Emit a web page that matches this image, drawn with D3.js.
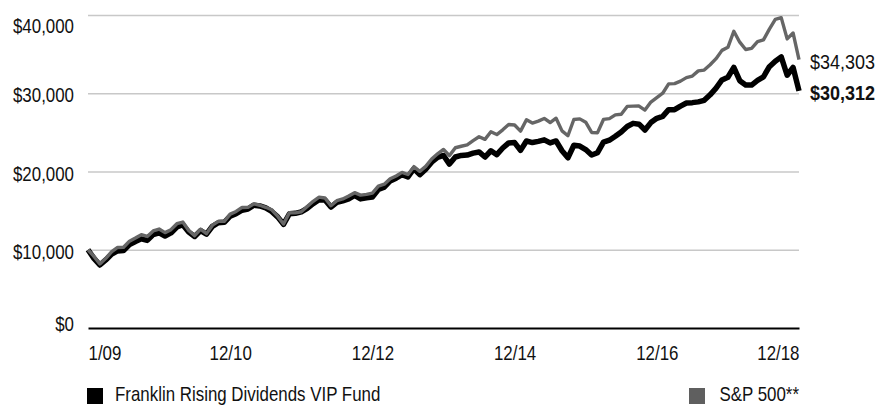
<!DOCTYPE html>
<html>
<head>
<meta charset="utf-8">
<script src="https://cdn.jsdelivr.net/npm/d3@7"></script>
<style>
  html, body { margin: 0; padding: 0; background: #fff; }
  svg { display: block; }
  text { font-family: "Liberation Sans", Arial, sans-serif; fill: #111; }
</style>
</head>
<body>
<svg id="chart" width="879" height="405"></svg>
<script>
// ---- Data (hypothetical $10,000 investment, month-end values 12/08 .. 12/18) ----
const seriesNames = ["Franklin Rising Dividends VIP Fund", "S&P 500**"];
const fundValues = [10000,
  8900,8050,8700,9450,9850,9900,10650,11050,11400,11200,11950,12150,
  11750,12150,12900,13200,12250,11700,12450,12000,13000,13450,13500,14300,
  14600,15050,15200,15700,15600,15350,14900,14200,13250,14600,14650,14850,
  15300,15900,16400,16350,15450,16050,16250,16500,16950,16500,16650,16750,
  17700,18000,18800,19150,19600,19300,20350,19600,20300,21200,21800,22050,
  20950,21850,22050,22100,22350,22500,21850,22650,22150,23000,23650,23700,
  22700,23900,23700,23850,24050,23650,23900,22650,21750,23350,23250,22800,
  22100,22400,23750,24000,24500,25050,25750,26150,26050,25300,26250,26800,
  27050,27900,27900,28350,28750,28800,28900,29100,29800,30650,31700,32050,
  33300,31600,31050,31050,31650,32100,33400,34100,34650,32300,33300,30312];
const spValues = [10000,
  9157,8182,8899,9750,10295,10316,11096,11497,11926,11704,12406,12646,
  12191,12569,13327,13538,12456,11803,12631,12061,13137,13636,13637,14548,
  14895,15406,15412,15868,15689,15427,15114,14293,13288,14740,14708,14858,
  15523,16193,16726,16620,15621,16265,16491,16862,17297,16977,17075,17234,
  18127,18373,19062,19430,19885,19618,20617,20019,20648,21598,22257,22816,
  22027,23033,23227,23399,23949,24445,24107,25072,24721,25324,26005,25940,
  25161,26608,26187,26439,26780,26260,26812,25195,24573,26647,26727,26297,
  24993,24961,26653,26757,27239,27310,28318,28357,28363,27847,28877,29442,
  30001,31192,31229,31551,31996,32194,32857,32959,33638,34422,35479,35869,
  37924,36525,35597,35732,36593,36820,38190,39435,39660,36947,37701,34303];
const xTickIndex = [0, 24, 48, 72, 96, 120];
const xTickLabels = ["1/09", "12/10", "12/12", "12/14", "12/16", "12/18"];
const yTickValues = [0, 10000, 20000, 30000, 40000];
const endLabels = ["$30,312", "$34,303"];

// ---- Layout ----
const svg = d3.select("#chart");
const mLeft = 88, mRight = 799, mTop = 15, mBottom = 328;
const SX = 0.845; // condensed type

const x = d3.scaleLinear().domain([0, fundValues.length - 1]).range([mLeft, mRight]);
const y = d3.scaleLinear().domain([0, 40000]).range([mBottom, mTop]);

// gridlines
const grid = svg.append("g")
  .attr("transform", `translate(${mLeft},0)`)
  .call(d3.axisLeft(y).tickValues(yTickValues.slice(1)).tickSize(-(mRight - mLeft)).tickFormat(""));
grid.select(".domain").remove();
grid.selectAll("line").attr("stroke", "#c8c8c8").attr("stroke-width", 1.6);

// y axis labels
const yAxis = svg.append("g")
  .attr("transform", `translate(${mLeft},0)`)
  .call(d3.axisLeft(y).tickValues(yTickValues).tickSize(0).tickFormat(d => "$" + d3.format(",")(d)));
yAxis.select(".domain").remove();
yAxis.selectAll("text")
  .attr("font-size", 20)
  .attr("fill", "#111")
  .attr("x", -14 / SX)
  .attr("dy", null)
  .attr("dominant-baseline", "central")
  .attr("y", d => d === 40000 ? 10 : (d === 0 ? -5 : 1.5))
  .attr("transform", `scale(${SX},1)`);

// x axis
const xAxis = svg.append("g")
  .attr("transform", `translate(0,${mBottom})`)
  .call(d3.axisBottom(x).tickValues(xTickIndex).tickSize(0).tickFormat((d, i) => xTickLabels[i]));
xAxis.select(".domain").attr("stroke", "#000").attr("stroke-width", 1.8);
xAxis.selectAll("text")
  .attr("font-size", 20)
  .attr("fill", "#111")
  .attr("y", 25)
  .attr("dy", null)
  .attr("dominant-baseline", "central")
  .attr("text-anchor", (d, i) => i === 0 ? "start" : (i === xTickIndex.length - 1 ? "end" : "middle"))
  .attr("transform", `scale(${SX},1)`);

// lines
const line = d3.line().x((d, i) => x(i)).y(d => y(d));
svg.append("path").datum(fundValues)
  .attr("fill", "none").attr("stroke", "#000").attr("stroke-width", 5.5)
  .attr("stroke-linejoin", "round").attr("d", line);
svg.append("path").datum(spValues)
  .attr("fill", "none").attr("stroke", "#666").attr("stroke-width", 3.4)
  .attr("stroke-linejoin", "round").attr("d", line);

// end labels
const lastI = fundValues.length - 1;
svg.append("g").attr("transform", `translate(810,${y(spValues[lastI]) + 2.5}) scale(0.9,1)`)
  .append("text").attr("font-size", 20).attr("dominant-baseline", "central").attr("fill", "#111")
  .text(endLabels[1]);
svg.append("g").attr("transform", `translate(810,${y(fundValues[lastI]) + 2.5}) scale(0.9,1)`)
  .append("text").attr("font-size", 20).attr("font-weight", "bold").attr("dominant-baseline", "central").attr("fill", "#000")
  .text(endLabels[0]);

// legend
const legendItems = [
  { name: seriesNames[0], color: "#000", sx: 87, tx: 115, anchor: "start" },
  { name: seriesNames[1], color: "#5f5f5f", sx: 689, tx: 799, anchor: "end" }
];
legendItems.forEach(it => {
  svg.append("rect").attr("x", it.sx).attr("y", 388).attr("width", 16).attr("height", 16).attr("fill", it.color);
  svg.append("g").attr("transform", `translate(${it.tx},400.5) scale(${SX},1)`)
    .append("text").attr("font-size", 20).attr("text-anchor", it.anchor).attr("fill", "#111").text(it.name);
});
</script>
</body>
</html>
